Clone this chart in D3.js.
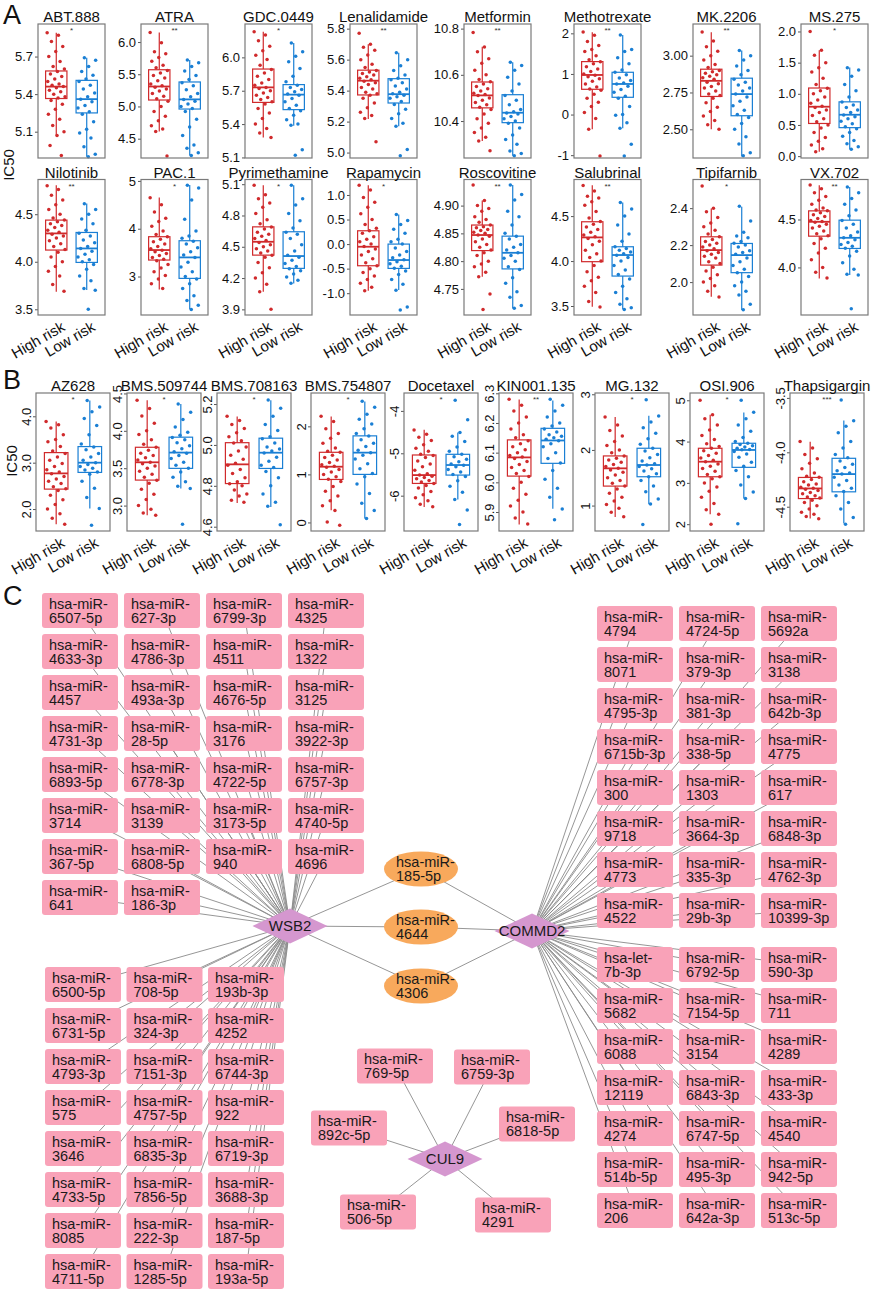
<!DOCTYPE html>
<html><head><meta charset="utf-8">
<script src="https://cdn.jsdelivr.net/npm/d3@7"></script>
<style>
body{margin:0;background:#fff;}
svg text{font-family:"Liberation Sans",Arial,sans-serif;}
</style></head><body>
<svg id="fig" width="872" height="1291"></svg>
<script>
'use strict';
// ---------- data : panel A ----------
const groups = ["High risk", "Low risk"];
const drugsA = ["ABT.888","ATRA","GDC.0449","Lenalidamide","Metformin","Methotrexate","MK.2206","MS.275",
  "Nilotinib","PAC.1","Pyrimethamine","Rapamycin","Roscovitine","Salubrinal","Tipifarnib","VX.702"];
const sigA = ["*","**","*","**","**","**","**","*","**","*","*","*","**","**","*","**"];
const tickLabelsA = [
  ["5.1","5.4","5.7"],["4.5","5.0","5.5","6.0"],["5.1","5.4","5.7","6.0"],["5.0","5.2","5.4","5.6","5.8"],
  ["10.4","10.6","10.8"],["-1","0","1","2"],["2.50","2.75","3.00"],["0.0","0.5","1.0","1.5","2.0"],
  ["3.5","4.0","4.5"],["3","4","5"],["3.9","4.2","4.5","4.8","5.1"],["-1.0","-0.5","0.0","0.5","1.0"],
  ["4.75","4.80","4.85","4.90"],["3.5","4.0","4.5"],["2.0","2.2","2.4"],["4.0","4.5"]];
const domainsA = [[4.89,5.96],[4.20,6.28],[5.095,6.30],[4.965,5.83],[10.24,10.82],[-1.07,2.23],[2.305,3.215],[-0.03,2.12],
  [3.44,4.865],[2.195,5.03],[3.846,5.145],[-1.444,1.315],[4.703,4.947],[3.40,4.907],[1.822,2.555],[3.504,4.917]];
// [lower whisker, q1, median, q3, upper whisker]
const boxHighA = [
  [5.07,5.365,5.46,5.585,5.89],[4.61,5.10,5.31,5.57,6.15],[5.28,5.595,5.73,5.895,6.23],[5.217,5.372,5.464,5.532,5.70],
  [10.314,10.457,10.511,10.569,10.721],[-0.364,0.622,0.975,1.304,2.028],[2.501,2.723,2.829,2.908,3.159],[0.069,0.524,0.793,1.093,1.698],
  [3.685,4.123,4.298,4.438,4.805],[2.731,3.345,3.554,3.833,4.655],[4.069,4.42,4.548,4.691,5.09],[-0.949,-0.441,-0.054,0.271,1.2],
  [4.772,4.819,4.847,4.865,4.909],[3.493,3.993,4.263,4.437,4.844],[1.921,2.092,2.173,2.245,2.398],[3.885,4.326,4.476,4.59,4.857]];
const boxLowA = [
  [4.90,5.25,5.36,5.51,5.69],[4.24,4.96,5.11,5.38,5.72],[5.385,5.53,5.665,5.755,6.13],[5.17,5.32,5.377,5.477,5.645],
  [10.25,10.393,10.436,10.514,10.654],[-0.34,0.425,0.753,1.041,1.962],[2.316,2.592,2.739,2.847,3.035],[0.111,0.457,0.664,0.871,1.424],
  [3.703,3.993,4.14,4.308,4.613],[2.313,2.961,3.40,3.749,4.913],[4.149,4.293,4.411,4.644,5.09],[-0.936,-0.495,-0.325,0.0,0.603],
  [4.715,4.786,4.815,4.845,4.937],[3.464,3.833,4.067,4.159,4.651],[1.849,2.051,2.146,2.209,2.407],[3.92,4.198,4.309,4.493,4.84]];
const ptsHighA = [
  [5.89,5.87,5.82,5.78,5.74,5.70,5.66,5.62,5.60,5.58,5.56,5.54,5.52,5.50,5.48,5.47,5.46,5.45,5.43,5.42,5.40,5.38,5.37,5.35,5.32,5.28,5.24,5.20,5.15,5.10,5.07,4.99,4.91],
  [6.15,5.99,5.85,5.82,5.76,5.70,5.64,5.60,5.56,5.52,5.48,5.44,5.40,5.35,5.32,5.30,5.27,5.24,5.20,5.16,5.12,5.08,5.00,4.92,4.85,4.78,4.70,4.65,4.61,4.23],
  [6.23,6.20,6.15,6.10,6.06,6.02,5.98,5.93,5.89,5.86,5.83,5.80,5.77,5.75,5.73,5.72,5.70,5.68,5.66,5.64,5.62,5.60,5.58,5.54,5.50,5.45,5.40,5.36,5.32,5.28],
  [5.77,5.70,5.68,5.66,5.63,5.60,5.57,5.55,5.53,5.52,5.51,5.50,5.49,5.48,5.47,5.46,5.45,5.44,5.42,5.41,5.39,5.38,5.37,5.35,5.32,5.29,5.26,5.24,5.22,5.07],
  [10.783,10.72,10.70,10.67,10.65,10.62,10.60,10.58,10.57,10.56,10.55,10.54,10.53,10.52,10.515,10.51,10.50,10.49,10.48,10.47,10.46,10.45,10.43,10.41,10.39,10.37,10.35,10.33,10.314,10.271],
  [2.03,1.95,1.80,1.70,1.60,1.55,1.45,1.35,1.30,1.25,1.18,1.12,1.06,1.00,0.97,0.93,0.88,0.82,0.75,0.68,0.63,0.60,0.50,0.40,0.30,0.20,0.05,-0.10,-0.36,-1.02],
  [3.16,3.10,3.06,3.03,3.00,2.97,2.94,2.92,2.90,2.89,2.88,2.87,2.86,2.85,2.84,2.82,2.81,2.79,2.78,2.76,2.74,2.73,2.71,2.68,2.65,2.62,2.59,2.56,2.53,2.50],
  [2.0,1.70,1.62,1.50,1.42,1.35,1.25,1.15,1.09,1.05,1.00,0.95,0.90,0.85,0.80,0.78,0.74,0.70,0.65,0.60,0.55,0.50,0.45,0.38,0.30,0.24,0.18,0.12,0.07],
  [4.80,4.76,4.70,4.65,4.60,4.55,4.50,4.46,4.44,4.42,4.40,4.38,4.36,4.33,4.31,4.29,4.27,4.25,4.22,4.19,4.16,4.13,4.10,4.05,4.00,3.95,3.90,3.85,3.76,3.69],
  [4.65,4.50,4.35,4.22,4.15,4.05,3.95,3.88,3.83,3.78,3.73,3.68,3.63,3.58,3.55,3.52,3.48,3.44,3.40,3.36,3.33,3.25,3.18,3.10,3.02,2.95,2.85,2.75],
  [5.09,5.00,4.96,4.92,4.88,4.82,4.76,4.72,4.69,4.67,4.64,4.62,4.60,4.58,4.56,4.54,4.52,4.50,4.48,4.46,4.44,4.42,4.40,4.35,4.30,4.25,4.20,4.14,4.07,3.90],
  [1.20,1.10,0.95,0.85,0.75,0.62,0.50,0.40,0.32,0.27,0.22,0.15,0.10,0.05,0.0,-0.05,-0.10,-0.15,-0.22,-0.30,-0.38,-0.44,-0.50,-0.58,-0.65,-0.72,-0.80,-0.88,-0.95],
  [4.937,4.909,4.90,4.895,4.89,4.88,4.875,4.87,4.865,4.862,4.86,4.857,4.855,4.852,4.85,4.847,4.845,4.84,4.835,4.83,4.825,4.82,4.815,4.81,4.80,4.795,4.79,4.78,4.772,4.741,4.713],
  [4.84,4.78,4.72,4.70,4.66,4.62,4.55,4.48,4.44,4.41,4.38,4.35,4.32,4.29,4.27,4.25,4.22,4.18,4.12,4.08,4.04,4.00,3.95,3.88,3.82,3.78,3.72,3.65,3.55,3.49],
  [2.52,2.40,2.38,2.35,2.32,2.30,2.28,2.26,2.245,2.23,2.22,2.21,2.20,2.19,2.18,2.17,2.16,2.15,2.14,2.13,2.11,2.10,2.08,2.06,2.04,2.02,2.00,1.98,1.95,1.92],
  [4.86,4.82,4.78,4.74,4.70,4.66,4.62,4.60,4.59,4.57,4.55,4.53,4.51,4.49,4.48,4.47,4.45,4.43,4.41,4.38,4.35,4.33,4.30,4.25,4.20,4.15,4.08,4.00,3.95,3.89]];
const ptsLowA = [
  [5.69,5.67,5.62,5.58,5.55,5.52,5.50,5.47,5.44,5.41,5.38,5.36,5.34,5.31,5.29,5.26,5.24,5.18,5.12,5.09,5.05,4.98,4.92,4.90],
  [5.72,5.68,5.62,5.55,5.48,5.42,5.37,5.32,5.26,5.20,5.15,5.11,5.08,5.04,5.00,4.97,4.92,4.80,4.68,4.55,4.40,4.35,4.28,4.24],
  [6.13,6.05,6.01,5.96,5.90,5.83,5.78,5.75,5.73,5.71,5.69,5.67,5.66,5.63,5.60,5.57,5.54,5.52,5.48,5.44,5.40,5.39,5.17,5.12],
  [5.645,5.60,5.56,5.53,5.50,5.48,5.47,5.45,5.43,5.41,5.39,5.38,5.37,5.36,5.35,5.33,5.31,5.28,5.25,5.22,5.19,5.17,5.02,4.98],
  [10.654,10.64,10.62,10.59,10.56,10.53,10.51,10.49,10.47,10.45,10.44,10.435,10.43,10.42,10.41,10.40,10.39,10.37,10.34,10.32,10.30,10.27,10.26,10.25],
  [1.96,1.60,1.55,1.40,1.25,1.10,1.04,0.98,0.90,0.84,0.78,0.75,0.70,0.62,0.55,0.45,0.40,0.20,0.0,-0.02,-0.20,-0.34,-0.73,-1.02],
  [3.035,3.00,2.97,2.93,2.90,2.87,2.84,2.82,2.80,2.78,2.76,2.74,2.72,2.69,2.66,2.63,2.60,2.58,2.54,2.50,2.45,2.40,2.34,2.32],
  [1.42,1.38,1.28,1.15,1.05,0.95,0.87,0.82,0.78,0.74,0.70,0.66,0.63,0.60,0.56,0.52,0.47,0.44,0.38,0.32,0.25,0.20,0.15,0.11],
  [4.61,4.55,4.50,4.45,4.40,4.33,4.30,4.27,4.23,4.20,4.16,4.14,4.11,4.08,4.05,4.02,4.00,3.97,3.92,3.85,3.80,3.72,3.70,3.50],
  [4.91,4.85,4.60,4.20,3.95,3.85,3.80,3.74,3.68,3.60,3.52,3.45,3.40,3.30,3.20,3.10,3.00,2.95,2.85,2.75,2.60,2.50,2.40,2.31],
  [5.09,4.96,4.90,4.82,4.75,4.68,4.64,4.62,4.58,4.52,4.46,4.42,4.40,4.37,4.34,4.31,4.29,4.27,4.24,4.21,4.18,4.15],
  [0.60,0.48,0.40,0.30,0.22,0.10,0.05,0.0,-0.08,-0.15,-0.22,-0.28,-0.32,-0.36,-0.40,-0.45,-0.49,-0.55,-0.62,-0.72,-0.82,-0.94,-1.28,-1.34],
  [4.937,4.92,4.91,4.89,4.88,4.865,4.85,4.845,4.84,4.83,4.825,4.82,4.815,4.81,4.805,4.80,4.79,4.785,4.77,4.76,4.745,4.735,4.72,4.715],
  [4.65,4.58,4.50,4.40,4.30,4.22,4.16,4.14,4.12,4.10,4.08,4.065,4.04,4.00,3.95,3.90,3.85,3.80,3.72,3.65,3.58,3.52,3.48,3.46],
  [2.41,2.33,2.27,2.25,2.24,2.22,2.21,2.20,2.19,2.17,2.16,2.15,2.13,2.11,2.09,2.07,2.05,2.03,2.00,1.98,1.95,1.93,1.88,1.85],
  [4.84,4.78,4.72,4.66,4.60,4.54,4.49,4.45,4.41,4.37,4.33,4.31,4.29,4.26,4.24,4.22,4.20,4.17,4.12,4.05,3.98,3.93,3.92,3.57]];

// ---------- data : panel B ----------
const drugsB = ["AZ628","BMS.509744","BMS.708163","BMS.754807","Docetaxel","KIN001.135","MG.132","OSI.906","Thapsigargin"];
const sigB = ["*","*","*","*","*","**","*","*","***"];
const tickLabelsB = [["2.0","3.0","4.0"],["3.0","3.5","4.0","4.5"],["4.6","4.8","5.0","5.2"],["0","1","2"],["-6","-5","-4"],
  ["5.9","6.0","6.1","6.2","6.3"],["1","2","3"],["2","3","4","5"],["-4.5","-4.0","-3.5"]];
const domainsB = [[1.527,4.502],[2.66,4.506],[4.579,5.254],[-0.178,2.694],[-6.833,-3.578],[5.836,6.301],[0.543,3.023],[1.835,5.176],[-4.723,-3.455]];
const boxHighB = [[1.672,2.43,2.769,3.217,3.888],[2.871,3.341,3.579,3.78,4.408],[4.716,4.811,4.905,5.011,5.139],[0.254,0.895,1.16,1.46,2.206],
  [-6.264,-5.711,-5.514,-5.04,-4.447],[5.858,6.021,6.084,6.143,6.279],[0.796,1.35,1.669,1.892,2.59],[2.24,3.148,3.513,3.838,4.649],[-4.609,-4.425,-4.332,-4.231,-3.902]];
const boxLowB = [[2.01,2.79,3.0,3.347,4.343],[3.229,3.498,3.709,3.915,4.358],[4.697,4.885,4.962,5.033,5.218],[0.08,1.0,1.453,1.802,2.519],
  [-6.09,-5.514,-5.277,-5.024,-4.51],[5.911,6.064,6.141,6.182,6.276],[1.025,1.518,1.729,2.03,2.614],[2.621,3.376,3.797,3.959,4.706],[-4.655,-4.363,-4.2,-4.055,-3.708]];
const ptsHighB = [
  [3.89,3.82,3.75,3.60,3.50,3.45,3.35,3.25,3.20,3.12,3.05,2.98,2.92,2.85,2.80,2.76,2.70,2.65,2.60,2.55,2.48,2.44,2.40,2.30,2.20,2.10,2.00,1.90,1.80,1.67],
  [4.41,4.30,4.20,4.10,4.00,3.95,3.88,3.82,3.78,3.74,3.70,3.67,3.64,3.61,3.58,3.56,3.53,3.50,3.46,3.42,3.38,3.34,3.30,3.22,3.15,3.08,3.00,2.95,2.90,2.87],
  [5.14,5.12,5.10,5.08,5.06,5.04,5.02,5.01,4.99,4.97,4.95,4.93,4.91,4.90,4.88,4.86,4.84,4.82,4.81,4.80,4.78,4.76,4.75,4.73,4.72],
  [2.21,2.10,1.95,1.85,1.75,1.65,1.55,1.48,1.46,1.40,1.35,1.30,1.25,1.20,1.17,1.15,1.10,1.05,1.00,0.95,0.90,0.85,0.75,0.65,0.55,0.45,0.35,0.25,0.01,-0.06],
  [-4.45,-4.55,-4.62,-4.70,-4.80,-4.88,-4.95,-5.02,-5.05,-5.10,-5.18,-5.25,-5.32,-5.40,-5.48,-5.51,-5.54,-5.57,-5.60,-5.64,-5.68,-5.71,-5.76,-5.82,-5.90,-5.98,-6.05,-6.12,-6.20,-6.26],
  [6.28,6.26,6.24,6.22,6.20,6.18,6.16,6.15,6.14,6.13,6.12,6.11,6.10,6.09,6.085,6.08,6.07,6.06,6.05,6.04,6.03,6.02,6.00,5.98,5.96,5.94,5.92,5.90,5.88,5.86],
  [2.59,2.45,2.35,2.25,2.15,2.08,2.00,1.95,1.89,1.85,1.82,1.78,1.74,1.70,1.67,1.64,1.60,1.55,1.50,1.45,1.40,1.35,1.30,1.22,1.15,1.08,1.02,0.95,0.88,0.80],
  [5.0,4.65,4.55,4.40,4.28,4.15,4.05,3.95,3.88,3.84,3.78,3.72,3.66,3.60,3.55,3.51,3.46,3.40,3.35,3.28,3.20,3.15,3.10,3.00,2.90,2.80,2.65,2.50,2.35,2.24,2.0],
  [-3.90,-3.96,-4.02,-4.06,-4.10,-4.15,-4.19,-4.22,-4.23,-4.25,-4.27,-4.29,-4.30,-4.32,-4.33,-4.34,-4.35,-4.37,-4.38,-4.40,-4.41,-4.42,-4.44,-4.46,-4.49,-4.52,-4.55,-4.57,-4.59,-4.61]];
const ptsLowB = [
  [4.34,4.20,4.10,3.95,3.80,3.60,3.40,3.34,3.28,3.20,3.12,3.05,3.00,2.96,2.92,2.88,2.84,2.80,2.75,2.60,2.45,2.25,2.01,1.65],
  [4.36,4.25,4.15,4.05,3.98,3.94,3.91,3.88,3.84,3.80,3.76,3.72,3.70,3.67,3.63,3.58,3.54,3.50,3.45,3.38,3.32,3.26,3.23,2.75],
  [5.22,5.18,5.14,5.10,5.07,5.04,5.03,5.01,4.99,4.98,4.97,4.96,4.94,4.92,4.90,4.89,4.87,4.84,4.80,4.76,4.72,4.70,4.61],
  [2.52,2.40,2.25,2.15,2.05,1.95,1.85,1.80,1.72,1.65,1.58,1.50,1.45,1.40,1.32,1.22,1.12,1.02,0.95,0.80,0.60,0.40,0.25,0.08],
  [-3.75,-4.21,-4.51,-4.60,-4.72,-4.85,-4.95,-5.02,-5.08,-5.14,-5.20,-5.25,-5.28,-5.32,-5.38,-5.44,-5.50,-5.55,-5.65,-5.78,-5.92,-6.09,-6.34,-6.68],
  [6.28,6.26,6.24,6.22,6.20,6.19,6.18,6.17,6.16,6.155,6.15,6.145,6.14,6.13,6.12,6.10,6.08,6.065,6.04,6.01,5.98,5.95,5.91,5.874],
  [2.90,2.61,2.50,2.40,2.30,2.20,2.10,2.03,1.98,1.92,1.86,1.80,1.75,1.73,1.70,1.66,1.62,1.57,1.52,1.45,1.35,1.25,1.12,1.03,0.66],
  [5.0,4.71,4.55,4.40,4.25,4.10,4.00,3.96,3.93,3.90,3.87,3.84,3.81,3.80,3.76,3.70,3.62,3.50,3.40,3.30,3.15,2.95,2.78,2.62,2.01],
  [-3.52,-3.71,-3.76,-3.82,-3.90,-3.96,-4.02,-4.05,-4.08,-4.11,-4.14,-4.17,-4.19,-4.20,-4.23,-4.26,-4.30,-4.33,-4.36,-4.40,-4.46,-4.52,-4.60,-4.66]];

// ---------- data : panel C network ----------
const leftTopMirs = ["hsa-miR-6507-5p","hsa-miR-627-3p","hsa-miR-6799-3p","hsa-miR-4325",
  "hsa-miR-4633-3p","hsa-miR-4786-3p","hsa-miR-4511","hsa-miR-1322",
  "hsa-miR-4457","hsa-miR-493a-3p","hsa-miR-4676-5p","hsa-miR-3125",
  "hsa-miR-4731-3p","hsa-miR-28-5p","hsa-miR-3176","hsa-miR-3922-3p",
  "hsa-miR-6893-5p","hsa-miR-6778-3p","hsa-miR-4722-5p","hsa-miR-6757-3p",
  "hsa-miR-3714","hsa-miR-3139","hsa-miR-3173-5p","hsa-miR-4740-5p",
  "hsa-miR-367-5p","hsa-miR-6808-5p","hsa-miR-940","hsa-miR-4696",
  "hsa-miR-641","hsa-miR-186-3p"];
const leftBottomMirs = ["hsa-miR-6500-5p","hsa-miR-708-5p","hsa-miR-193b-3p",
  "hsa-miR-6731-5p","hsa-miR-324-3p","hsa-miR-4252",
  "hsa-miR-4793-3p","hsa-miR-7151-3p","hsa-miR-6744-3p",
  "hsa-miR-575","hsa-miR-4757-5p","hsa-miR-922",
  "hsa-miR-3646","hsa-miR-6835-3p","hsa-miR-6719-3p",
  "hsa-miR-4733-5p","hsa-miR-7856-5p","hsa-miR-3688-3p",
  "hsa-miR-8085","hsa-miR-222-3p","hsa-miR-187-5p",
  "hsa-miR-4711-5p","hsa-miR-1285-5p","hsa-miR-193a-5p"];
const rightTopMirs = ["hsa-miR-4794","hsa-miR-4724-5p","hsa-miR-5692a",
  "hsa-miR-8071","hsa-miR-379-3p","hsa-miR-3138",
  "hsa-miR-4795-3p","hsa-miR-381-3p","hsa-miR-642b-3p",
  "hsa-miR-6715b-3p","hsa-miR-338-5p","hsa-miR-4775",
  "hsa-miR-300","hsa-miR-1303","hsa-miR-617",
  "hsa-miR-9718","hsa-miR-3664-3p","hsa-miR-6848-3p",
  "hsa-miR-4773","hsa-miR-335-3p","hsa-miR-4762-3p",
  "hsa-miR-4522","hsa-miR-29b-3p","hsa-miR-10399-3p"];
const rightBottomMirs = ["hsa-let-7b-3p","hsa-miR-6792-5p","hsa-miR-590-3p",
  "hsa-miR-5682","hsa-miR-7154-5p","hsa-miR-711",
  "hsa-miR-6088","hsa-miR-3154","hsa-miR-4289",
  "hsa-miR-12119","hsa-miR-6843-3p","hsa-miR-433-3p",
  "hsa-miR-4274","hsa-miR-6747-5p","hsa-miR-4540",
  "hsa-miR-514b-5p","hsa-miR-495-3p","hsa-miR-942-5p",
  "hsa-miR-206","hsa-miR-642a-3p","hsa-miR-513c-5p"];
const sharedMirs = ["hsa-miR-185-5p","hsa-miR-4644","hsa-miR-4306"];
const cul9Mirs = ["hsa-miR-769-5p","hsa-miR-6759-3p","hsa-miR-892c-5p","hsa-miR-6818-5p","hsa-miR-506-5p","hsa-miR-4291"];

// ---------- style / layout ----------
const colHigh = "#d02a2c", colLow = "#1a7fd4";
const svg = d3.select("#fig");
const rowA = [{top:24, h:134}, {top:179.5, h:135.5}];
const leftsA = [38,141,245,350,464,574,693,801];
const leftsB = [36,127,217,311,404,499,595,690,790];

function panel(cfg) {
  const {left, top, w, h} = cfg;
  const g = svg.append("g");
  const y = d3.scaleLinear().domain(cfg.domain).range([top + h, top]);
  const x = d3.scalePoint().domain(groups).range([left, left + w]).padding(0.6);
  const step = x.step(), bw = step * 0.7, jw = step * 0.3;

  const ax = g.append("g").attr("transform", `translate(${left},0)`)
    .call(d3.axisLeft(y).tickValues(cfg.ticks.map(Number)).tickFormat((d, i) => cfg.ticks[i]).tickSize(3).tickPadding(2));
  ax.select(".domain").remove();
  ax.selectAll("line").attr("stroke", "#555");
  ax.selectAll("text").attr("font-size", 13).attr("fill", "#111");
  if (cfg.rot) ax.selectAll("text").attr("transform", "rotate(-90)").attr("x", 0).attr("y", -5).attr("dy", 0).attr("text-anchor", "middle");

  [[cfg.boxH, cfg.ptsH, colHigh], [cfg.boxL, cfg.ptsL, colLow]].forEach(([b, pts, col], k) => {
    const cx = x(groups[k]);
    g.append("line").attr("x1", cx).attr("x2", cx).attr("y1", y(b[0])).attr("y2", y(b[4]))
      .attr("stroke", col).attr("stroke-width", 1.2);
    g.append("rect").attr("x", cx - bw / 2).attr("width", bw).attr("y", y(b[3])).attr("height", y(b[1]) - y(b[3]))
      .attr("fill", "#fff").attr("stroke", col).attr("stroke-width", 1.2);
    g.append("line").attr("x1", cx - bw / 2).attr("x2", cx + bw / 2).attr("y1", y(b[2])).attr("y2", y(b[2]))
      .attr("stroke", col).attr("stroke-width", 1.8);
    g.selectAll(null).data(pts).join("circle")
      .attr("cx", (d, i) => cx + (((i * 0.618034 + k * 0.37) % 1) - 0.5) * 2 * jw)
      .attr("cy", d => y(d)).attr("r", 1.75).attr("fill", col);
    if (cfg.xlab) g.append("text").attr("transform", `translate(${cx + 4},${top + h + 5}) rotate(-30)`)
      .attr("text-anchor", "end").attr("dy", "0.75em").attr("font-size", 15).attr("fill", "#111").text(groups[k]);
  });
  g.append("rect").attr("x", left).attr("y", top).attr("width", w).attr("height", h)
    .attr("fill", "none").attr("stroke", "#7a7a7a").attr("stroke-width", 1.2);
  g.append("text").attr("x", left + w / 2).attr("y", top - 2).attr("text-anchor", "middle")
    .attr("font-size", 15).attr("fill", "#111").text(cfg.title);
  g.append("text").attr("x", left + w / 2).attr("y", top + 9).attr("text-anchor", "middle")
    .attr("font-size", 8).attr("fill", "#333").text(cfg.sig);
}

drugsA.forEach((d, i) => {
  const row = Math.floor(i / 8), r = rowA[row];
  panel({left: leftsA[i % 8], top: r.top, w: 67, h: r.h, title: d, sig: sigA[i], ticks: tickLabelsA[i], xlab: row === 1,
    domain: domainsA[i], boxH: boxHighA[i], boxL: boxLowA[i], ptsH: ptsHighA[i], ptsL: ptsLowA[i]});
});
drugsB.forEach((d, i) => {
  panel({left: leftsB[i], top: 393, w: 74, h: 138, title: d, sig: sigB[i], ticks: tickLabelsB[i], rot: true, xlab: true,
    domain: domainsB[i], boxH: boxHighB[i], boxL: boxLowB[i], ptsH: ptsHighB[i], ptsL: ptsLowB[i]});
});

// letters and y titles
[["A", 3, 24], ["B", 3, 389], ["C", 3, 605]].forEach(([t, x, y]) =>
  svg.append("text").attr("x", x).attr("y", y).attr("font-size", 27).attr("fill", "#111").text(t));
[[9, 165], [12, 461]].forEach(([x, y]) =>
  svg.append("text").attr("transform", `translate(${x},${y}) rotate(-90)`).attr("text-anchor", "middle")
    .attr("dy", "0.35em").attr("font-size", 15).attr("fill", "#111").text("IC50"));

// ---------- panel C ----------
const hubs = {WSB2: [290, 926], COMMD2: [532, 931], CUL9: [445, 1159]};
const grids = [
  {ids: leftTopMirs, hub: "WSB2", x0: 42, y0: 593, cols: 4, dx: 82, dy: 41},
  {ids: leftBottomMirs, hub: "WSB2", x0: 45, y0: 967, cols: 3, dx: 81.5, dy: 41},
  {ids: rightTopMirs, hub: "COMMD2", x0: 597, y0: 606, cols: 3, dx: 82, dy: 41},
  {ids: rightBottomMirs, hub: "COMMD2", x0: 597, y0: 947, cols: 3, dx: 82, dy: 41}];
const sharedY = [869, 927, 986];
const cul9Offsets = [[-50, -93], [47, -92], [-96, -31], [92, -35], [-67, 53], [68, 56]];
const boxW = 76, boxH = 35;

const boxes = [];
grids.forEach(gr => gr.ids.forEach((id, i) => {
  const x = gr.x0 + (i % gr.cols) * gr.dx, y = gr.y0 + Math.floor(i / gr.cols) * gr.dy;
  boxes.push({id, x, y, cx: x + boxW / 2, cy: y + boxH / 2, hub: gr.hub});
}));
cul9Mirs.forEach((id, i) => {
  const cx = hubs.CUL9[0] + cul9Offsets[i][0], cy = hubs.CUL9[1] + cul9Offsets[i][1];
  boxes.push({id, x: cx - boxW / 2, y: cy - boxH / 2, cx, cy, hub: "CUL9"});
});
const ellipses = sharedMirs.map((id, i) => ({id, cx: 421, cy: sharedY[i]}));

const edges = boxes.map(b => [hubs[b.hub], [b.cx, b.cy]]);
ellipses.forEach(e => { edges.push([hubs.WSB2, [e.cx, e.cy]]); edges.push([hubs.COMMD2, [e.cx, e.cy]]); });
svg.append("g").selectAll("line").data(edges).join("line")
  .attr("x1", d => d[0][0]).attr("y1", d => d[0][1]).attr("x2", d => d[1][0]).attr("y2", d => d[1][1])
  .attr("stroke", "#8a8a8a").attr("stroke-width", 0.9);

const splitName = s => { const m = s.match(/^(hsa-(?:miR|let)-)(.*)$/); return [m[1], m[2]]; };

const gb = svg.append("g").selectAll("g").data(boxes).join("g");
gb.append("rect").attr("x", d => d.x).attr("y", d => d.y).attr("width", boxW).attr("height", boxH)
  .attr("rx", 3).attr("fill", "#f9a2b8");
gb.each(function (d) {
  const [a, b] = splitName(d.id);
  const t = d3.select(this).append("text").attr("font-size", 14.5).attr("fill", "#1a1a1a");
  t.append("tspan").attr("x", d.x + 7).attr("y", d.y + 15.5).text(a);
  t.append("tspan").attr("x", d.x + 7).attr("y", d.y + 29.5).text(b);
});

const ge = svg.append("g").selectAll("g").data(ellipses).join("g");
ge.append("ellipse").attr("cx", d => d.cx).attr("cy", d => d.cy).attr("rx", 37).attr("ry", 17.5).attr("fill", "#f8a95c");
ge.each(function (d) {
  const [a, b] = splitName(d.id);
  const t = d3.select(this).append("text").attr("font-size", 14.5).attr("fill", "#1a1a1a");
  t.append("tspan").attr("x", d.cx - 25).attr("y", d.cy - 2).text(a);
  t.append("tspan").attr("x", d.cx - 25).attr("y", d.cy + 12).text(b);
});

Object.entries(hubs).forEach(([name, [cx, cy]]) => {
  const hw = 37.5, hh = 17.5;
  svg.append("polygon").attr("points", [[cx - hw, cy], [cx, cy - hh], [cx + hw, cy], [cx, cy + hh]].map(p => p.join(",")).join(" "))
    .attr("fill", "#d597cf");
  svg.append("text").attr("x", cx).attr("y", cy).attr("dy", "0.36em").attr("text-anchor", "middle")
    .attr("font-size", 15).attr("fill", "#1a1a1a").text(name);
});
</script></body></html>
